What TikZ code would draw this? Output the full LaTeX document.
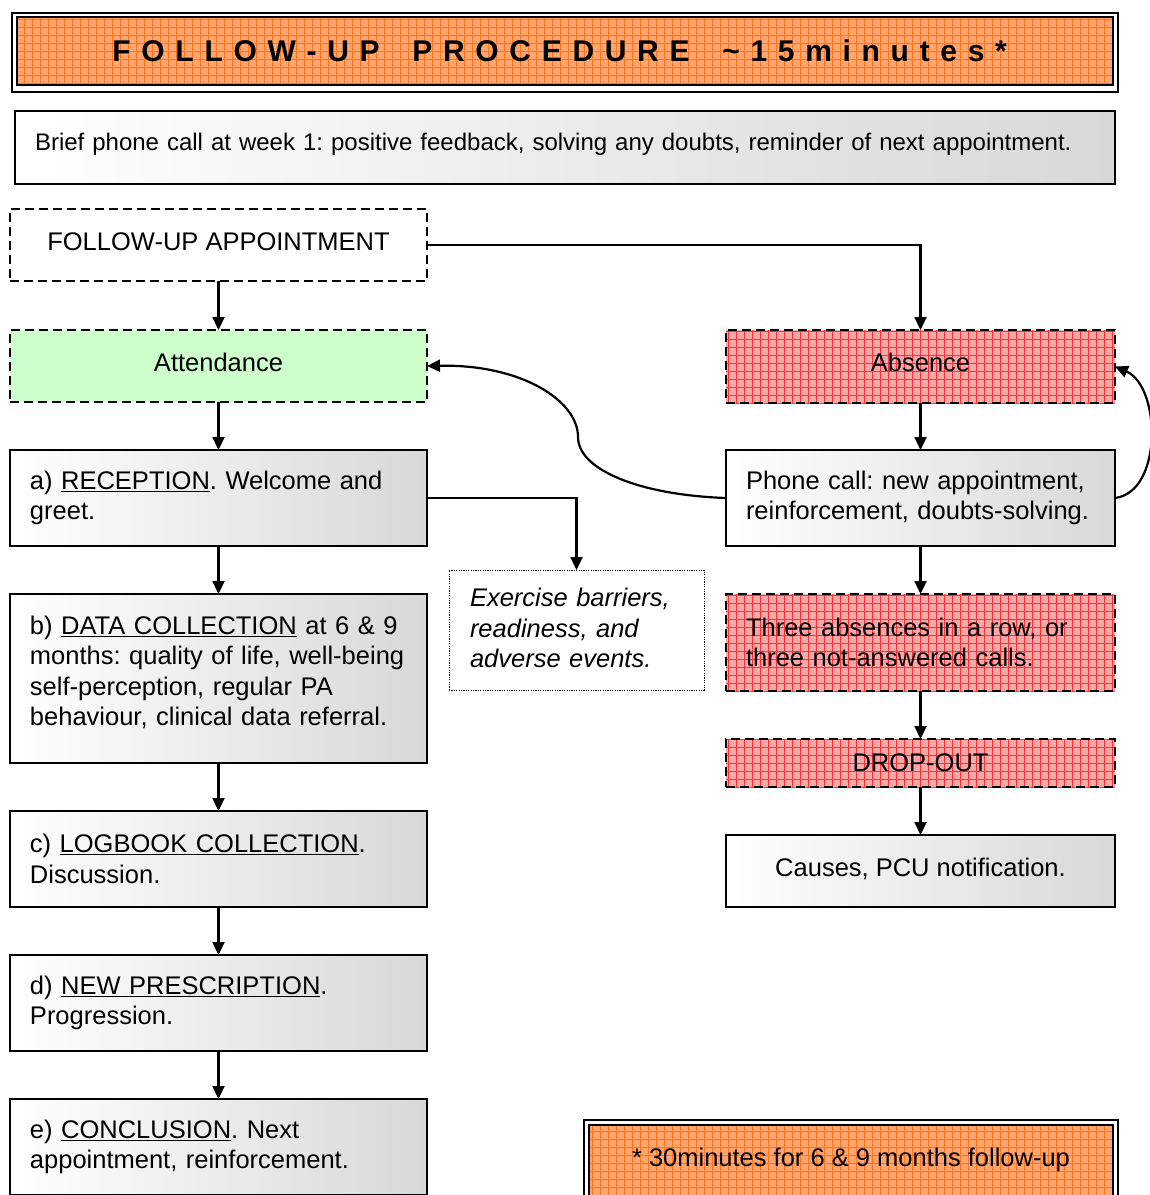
\documentclass[tikz,border=0pt]{standalone}
\usepackage{fontspec}
\setmainfont{Liberation Sans}
\usetikzlibrary{arrows.meta,patterns.meta}

\definecolor{orangebase}{RGB}{255,166,112}
\definecolor{orangegrid}{RGB}{255,118,24}
\definecolor{redbase}{RGB}{248,168,168}
\definecolor{redgrid}{RGB}{250,50,50}
\definecolor{greenfill}{RGB}{204,255,204}
\definecolor{shadegray}{RGB}{216,216,216}

% letter-spaced words for the heading
\newlength{\lsp}\setlength{\lsp}{10.7pt}
\def\spreadword#1{\spreadaux#1\relax}
\def\spreadaux#1{\ifx#1\relax\else#1\kern\lsp\expandafter\spreadaux\fi}

\frenchspacing
\begin{document}
\begin{tikzpicture}[x=1pt,y=-1pt,
  every node/.style={font=\fontsize{25.5}{30.5}\selectfont, inner sep=0pt, outer sep=0pt},
  plainbox/.style={draw, line width=1.4pt, anchor=north west},
  shadedbox/.style={plainbox, left color=white, right color=shadegray},
  dashbox/.style={plainbox, dash pattern=on 9pt off 5pt},
  redbox/.style={dashbox, preaction={fill=redbase},
    preaction={pattern={Hatch[angle=0,distance=8pt,line width=0.7pt]}, pattern color=redgrid}},
  orangebox/.style={plainbox, line width=2.6pt, preaction={fill=orangebase},
    preaction={pattern={Hatch[angle=0,distance=8pt,line width=0.8pt]}, pattern color=orangegrid}},
  lefttext/.style={align=left, inner xsep=20pt, text width=#1},
  raised/.style={text height=18.5pt, text depth=8pt},
  arr/.style={line width=2.2pt, -{Triangle[length=13pt,width=12pt]}},
]
\useasboundingbox (0,0) rectangle (1150,1195);

% heading
\node[plainbox, line width=1.6pt, minimum width=1106pt, minimum height=79pt] (titleframe) at (12,13) {};
\node[orangebox, minimum width=1096pt, minimum height=68pt,
      font=\fontsize{30}{36}\selectfont\bfseries] (title) at (17,17)
  {\spreadword{FOLLOW-UP}\hspace{22pt}\spreadword{PROCEDURE}\hspace{22pt}\spreadword{\textasciitilde15minutes*}};

\node[shadedbox, lefttext=1060pt, minimum height=73pt, font=\fontsize{24}{30}\selectfont] (brief) at (15,111)
  {\mbox{Brief phone call at week 1: positive feedback, solving any doubts, reminder of next appointment.}\vspace{6pt}};

% left column
\node[dashbox, raised, fill=white, minimum width=417pt, minimum height=72pt] (fua) at (10,209) {FOLLOW-UP APPOINTMENT};
\node[dashbox, raised, fill=greenfill, minimum width=417pt, minimum height=72pt] (att) at (10,330) {Attendance};
\node[shadedbox, lefttext=377pt, minimum height=96pt] (rec) at (10,450)
  {\mbox{a) \underline{RECEPTION}. Welcome and}\\\mbox{greet.}};
\node[shadedbox, lefttext=377pt, minimum height=169pt] (data) at (10,594)
  {\mbox{b) \underline{DATA COLLECTION} at 6 \& 9}\\\mbox{months: quality of life, well-being}\\\mbox{self-perception, regular PA}\\\mbox{behaviour, clinical data referral.}\vspace{12pt}};
\node[shadedbox, lefttext=377pt, minimum height=96pt] (log) at (10,811)
  {\mbox{c) \underline{LOGBOOK COLLECTION}.}\\\mbox{Discussion.}};
\node[shadedbox, lefttext=377pt, minimum height=96pt] (presc) at (10,955)
  {\mbox{d) \underline{NEW PRESCRIPTION}.}\\\mbox{Progression.}};
\node[shadedbox, lefttext=377pt, minimum height=96pt] (concl) at (10,1099)
  {\mbox{e) \underline{CONCLUSION}. Next}\\\mbox{appointment, reinforcement.}};

% middle
\node[plainbox, line width=1pt, dash pattern=on 1.2pt off 1.2pt, lefttext=213pt, inner xsep=21pt,
      minimum height=120pt, font=\fontsize{25.5}{30.5}\selectfont\itshape] (exer) at (449,570)
  {\mbox{Exercise barriers,}\\\mbox{readiness, and}\\\mbox{adverse events.}\vspace{4pt}};

% right column
\node[redbox, raised, minimum width=389pt, minimum height=73pt] (abs) at (726,330) {Absence};
\node[shadedbox, lefttext=349pt, minimum height=96pt] (phone) at (726,450)
  {\mbox{Phone call: new appointment,}\\\mbox{reinforcement, doubts-solving.}};
\node[redbox, lefttext=349pt, minimum height=97pt] (three) at (726,594)
  {\mbox{Three absences in a row, or}\\\mbox{three not-answered calls.}};
\node[redbox, minimum width=389pt, minimum height=48pt] (drop) at (726,739) {DROP-OUT};
\node[shadedbox, raised, minimum width=389pt, minimum height=72pt] (causes) at (726,835) {Causes, PCU notification.};

% footnote
\node[plainbox, line width=1.6pt, minimum width=534pt, minimum height=82pt] (noteframe) at (584,1120) {};
\node[orangebox, minimum width=524pt, minimum height=76pt, text depth=12pt] (note) at (589,1125)
  {* 30minutes for 6 \& 9 months follow-up};

% connectors
\draw[arr] (fua.south) -- (att.north);
\draw[arr] (att.south) -- (rec.north);
\draw[arr] (rec.south) -- (data.north);
\draw[arr] (data.south) -- (log.north);
\draw[arr] (log.south) -- (presc.north);
\draw[arr] (presc.south) -- (concl.north);
\draw[arr] (fua.east) -| (abs.north);
\draw[arr] (rec.east) -| (exer.north);
\draw[arr] (abs.south) -- (phone.north);
\draw[arr] (phone.south) -- (three.north);
\draw[arr] (three.south) -- (drop.north);
\draw[arr] (drop.south) -- (causes.north);
\draw[arr] (phone.west) .. controls +(-86,-3) and +(0,33) .. (578,437)
                        .. controls +(0,-37) and +(93,-2) .. (att.east);
\draw[arr] (phone.east) .. controls +(48,-6) and +(46,20) .. (abs.east);
\end{tikzpicture}
\end{document}
